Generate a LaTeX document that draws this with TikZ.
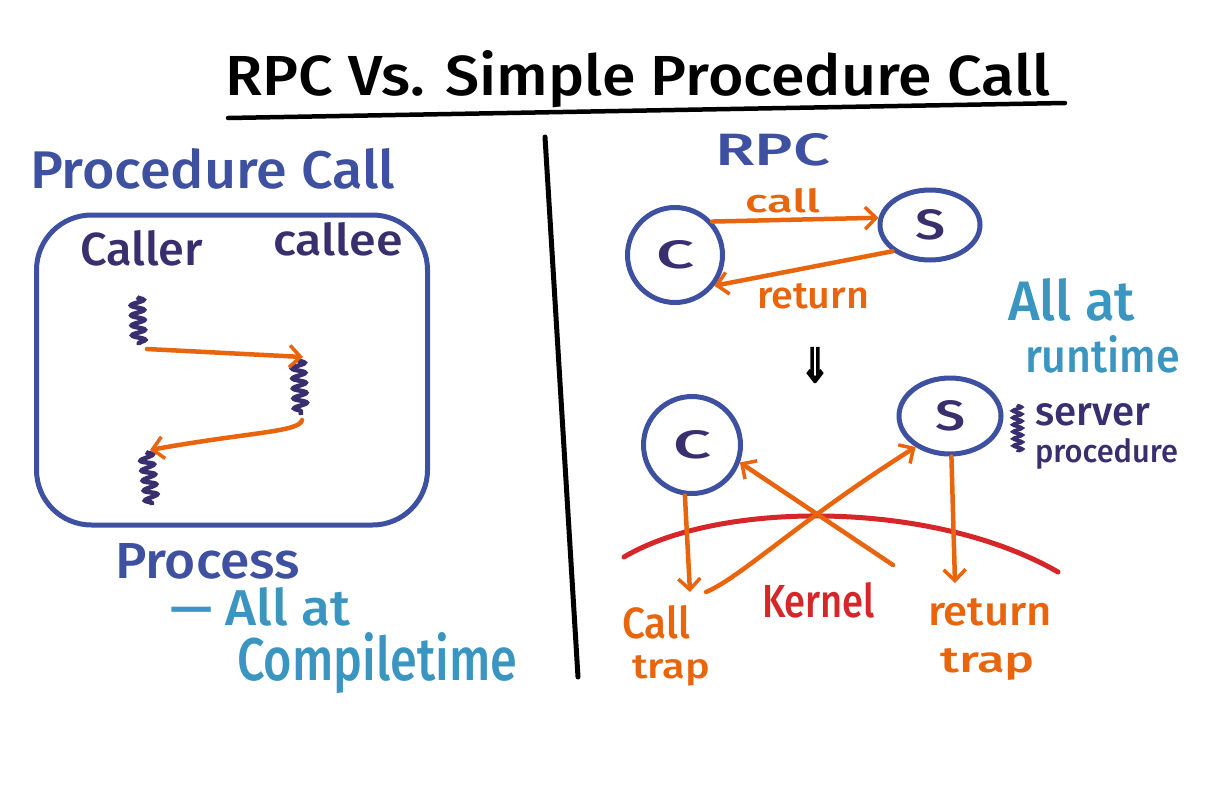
\documentclass[tikz,border=0pt]{standalone}
\usepackage{fontspec}
\setmainfont{Fira Sans}[UprightFont={* Medium}]
\newfontfamily\symfont{DejaVu Sans}[FakeBold=4]
\usepackage{graphicx}
\usetikzlibrary{arrows.meta,decorations.pathmorphing,shapes.geometric}
\definecolor{pblue}{RGB}{62,80,160}
\definecolor{dpurple}{RGB}{58,47,110}
\definecolor{lblue}{RGB}{58,150,192}
\definecolor{orng}{RGB}{232,101,14}
\definecolor{kred}{RGB}{213,38,42}
\newcommand{\fwh}[3]{\resizebox{#1pt}{#2pt}{#3}}
\tikzset{
  txt/.style={inner sep=0pt, outer sep=0pt, anchor=base west},
  flow/.style={draw=orng, line width=4.5pt, line cap=round, -{Straight Barb[length=11pt,width=22pt,line width=3.5pt]}},
  squig/.style={draw=dpurple, line width=4.5pt, decorate, decoration={snake, amplitude=6.5pt, segment length=10pt}},
  proc/.style={draw=pblue, line width=5pt, circle, inner sep=0pt, text=dpurple},
  procell/.style={draw=pblue, line width=5pt, ellipse, inner sep=0pt, text=dpurple},
}
\begin{document}
\begin{tikzpicture}[x=1pt,y=-1pt]
\useasboundingbox[fill=white] (0,0) rectangle (1226,795);

% title
\node[txt] (title) at (225,95) {\fwh{825}{45}{RPC Vs. Simple Procedure Call}};
\coordinate (ul1) at (228,118);
\coordinate (ul2) at (1065,103);
\draw[line width=4.5pt, line cap=round] (ul1) -- (ul2);

% divider
\coordinate (dv1) at (545,137);
\coordinate (dv2) at (578,677);
\draw[line width=5pt, line cap=round] (dv1) -- (dv2);

% ---------- left: procedure call
\node[txt, text=pblue] (pc) at (30,188) {\fwh{365}{40}{Procedure Call}};
\node[draw=pblue, line width=5pt, rounded corners=55pt, minimum width=391pt, minimum height=310pt] (procbox) at (232,370) {};
\node[txt, text=dpurple] (caller) at (80,265) {\fwh{123}{35}{Caller}};
\node[txt, text=dpurple] (callee) at (273,255) {\fwh{130}{33}{callee}};

\coordinate (s1a) at (137,297);
\coordinate (s1b) at (139,345);
\coordinate (s2a) at (298,360);
\coordinate (s2b) at (301,415);
\coordinate (s3a) at (146,452);
\coordinate (s3b) at (152,505);
\draw[squig] (s1a) -- (s1b);
\draw[squig] (s2a) -- (s2b);
\draw[squig] (s3a) -- (s3b);

\coordinate (a1s) at (147,349);
\coordinate (a1e) at (303,357);
\coordinate (a2s) at (302,420);
\coordinate (a2e) at (150,450);
\draw[flow] (a1s) -- (a1e);
\draw[flow] (a2s) .. controls (300,432) and (250,432) .. (a2e);

\node[txt, text=pblue] (process) at (115,578) {\fwh{185}{35}{Process}};
\node[txt, text=lblue] (allat1) at (170,625) {\fwh{180}{38}{— All at}};
\node[txt, text=lblue] (compile) at (237,680) {\fwh{280}{48}{Compiletime}};

% ---------- right: RPC
\node[txt, text=pblue] (rpc) at (715,165) {\fwh{115}{32}{RPC}};
\node[proc, minimum size=95pt] (C1) at (675,255) {\fwh{38}{28}{C}};
\node[procell, minimum width=100pt, minimum height=70pt] (S1) at (930,225) {\fwh{30}{30}{S}};
\draw[flow] (C1.42) -- (S1.172);
\draw[flow] (S1.215) -- (C1.-38);
\node[txt, text=orng] (calllbl) at (745,212) {\fwh{75}{24}{call}};
\node[txt, text=orng] (retlbl) at (757,308) {\fwh{112}{25}{return}};

\node[txt, text=lblue] (allat2) at (1008,320) {\fwh{127}{42}{All at}};
\node[txt, text=lblue] (runtime) at (1025,372) {\fwh{155}{37}{runtime}};

\node[inner sep=0pt] (dbl) at (815,365) {\fwh{30}{34}{\symfont ⇓}};

\node[proc, minimum size=97pt] (C2) at (692,445) {\fwh{38}{28}{C}};
\node[procell, minimum width=102pt, minimum height=76pt] (S2) at (950,416) {\fwh{30}{30}{S}};

\coordinate (s4a) at (1017,405);
\coordinate (s4b) at (1018,452);
\draw[squig, line width=3.5pt, decoration={snake, amplitude=4.5pt, segment length=7pt}] (s4a) -- (s4b);
\node[txt, text=dpurple] (server) at (1035,425) {\fwh{115}{22}{server}};
\node[txt, text=dpurple] (sproc) at (1035,462) {\fwh{143}{24}{procedure}};

% kernel boundary
\coordinate (k1) at (624,557);
\coordinate (k2) at (1058,572);
\draw[kred, line width=5pt, line cap=round] (k1) .. controls (720,500) and (933,500) .. (k2);
\node[txt, text=kred] (kernel) at (762,617) {\fwh{113}{35}{Kernel}};

\coordinate (ct) at (690,592);
\coordinate (ctb) at (706,592);
\coordinate (rt) at (893,565);
\coordinate (rtt) at (955,583);
\draw[flow] (C2.-98) -- (ct);
\draw[flow] (ctb) .. controls (740,578) and (800,520) .. (S2.222);
\draw[flow] (rt) -- (C2.-20);
\draw[flow] (S2.-88) -- (rtt);

\node[txt, text=orng] (calltrap1) at (622,638) {\fwh{68}{33}{Call}};
\node[txt, text=orng] (calltrap2) at (632,678) {\fwh{78}{23}{trap}};
\node[txt, text=orng] (rettrap1) at (928,625) {\fwh{124}{27}{return}};
\node[txt, text=orng] (rettrap2) at (940,672) {\fwh{95}{24}{trap}};
\end{tikzpicture}
\end{document}
